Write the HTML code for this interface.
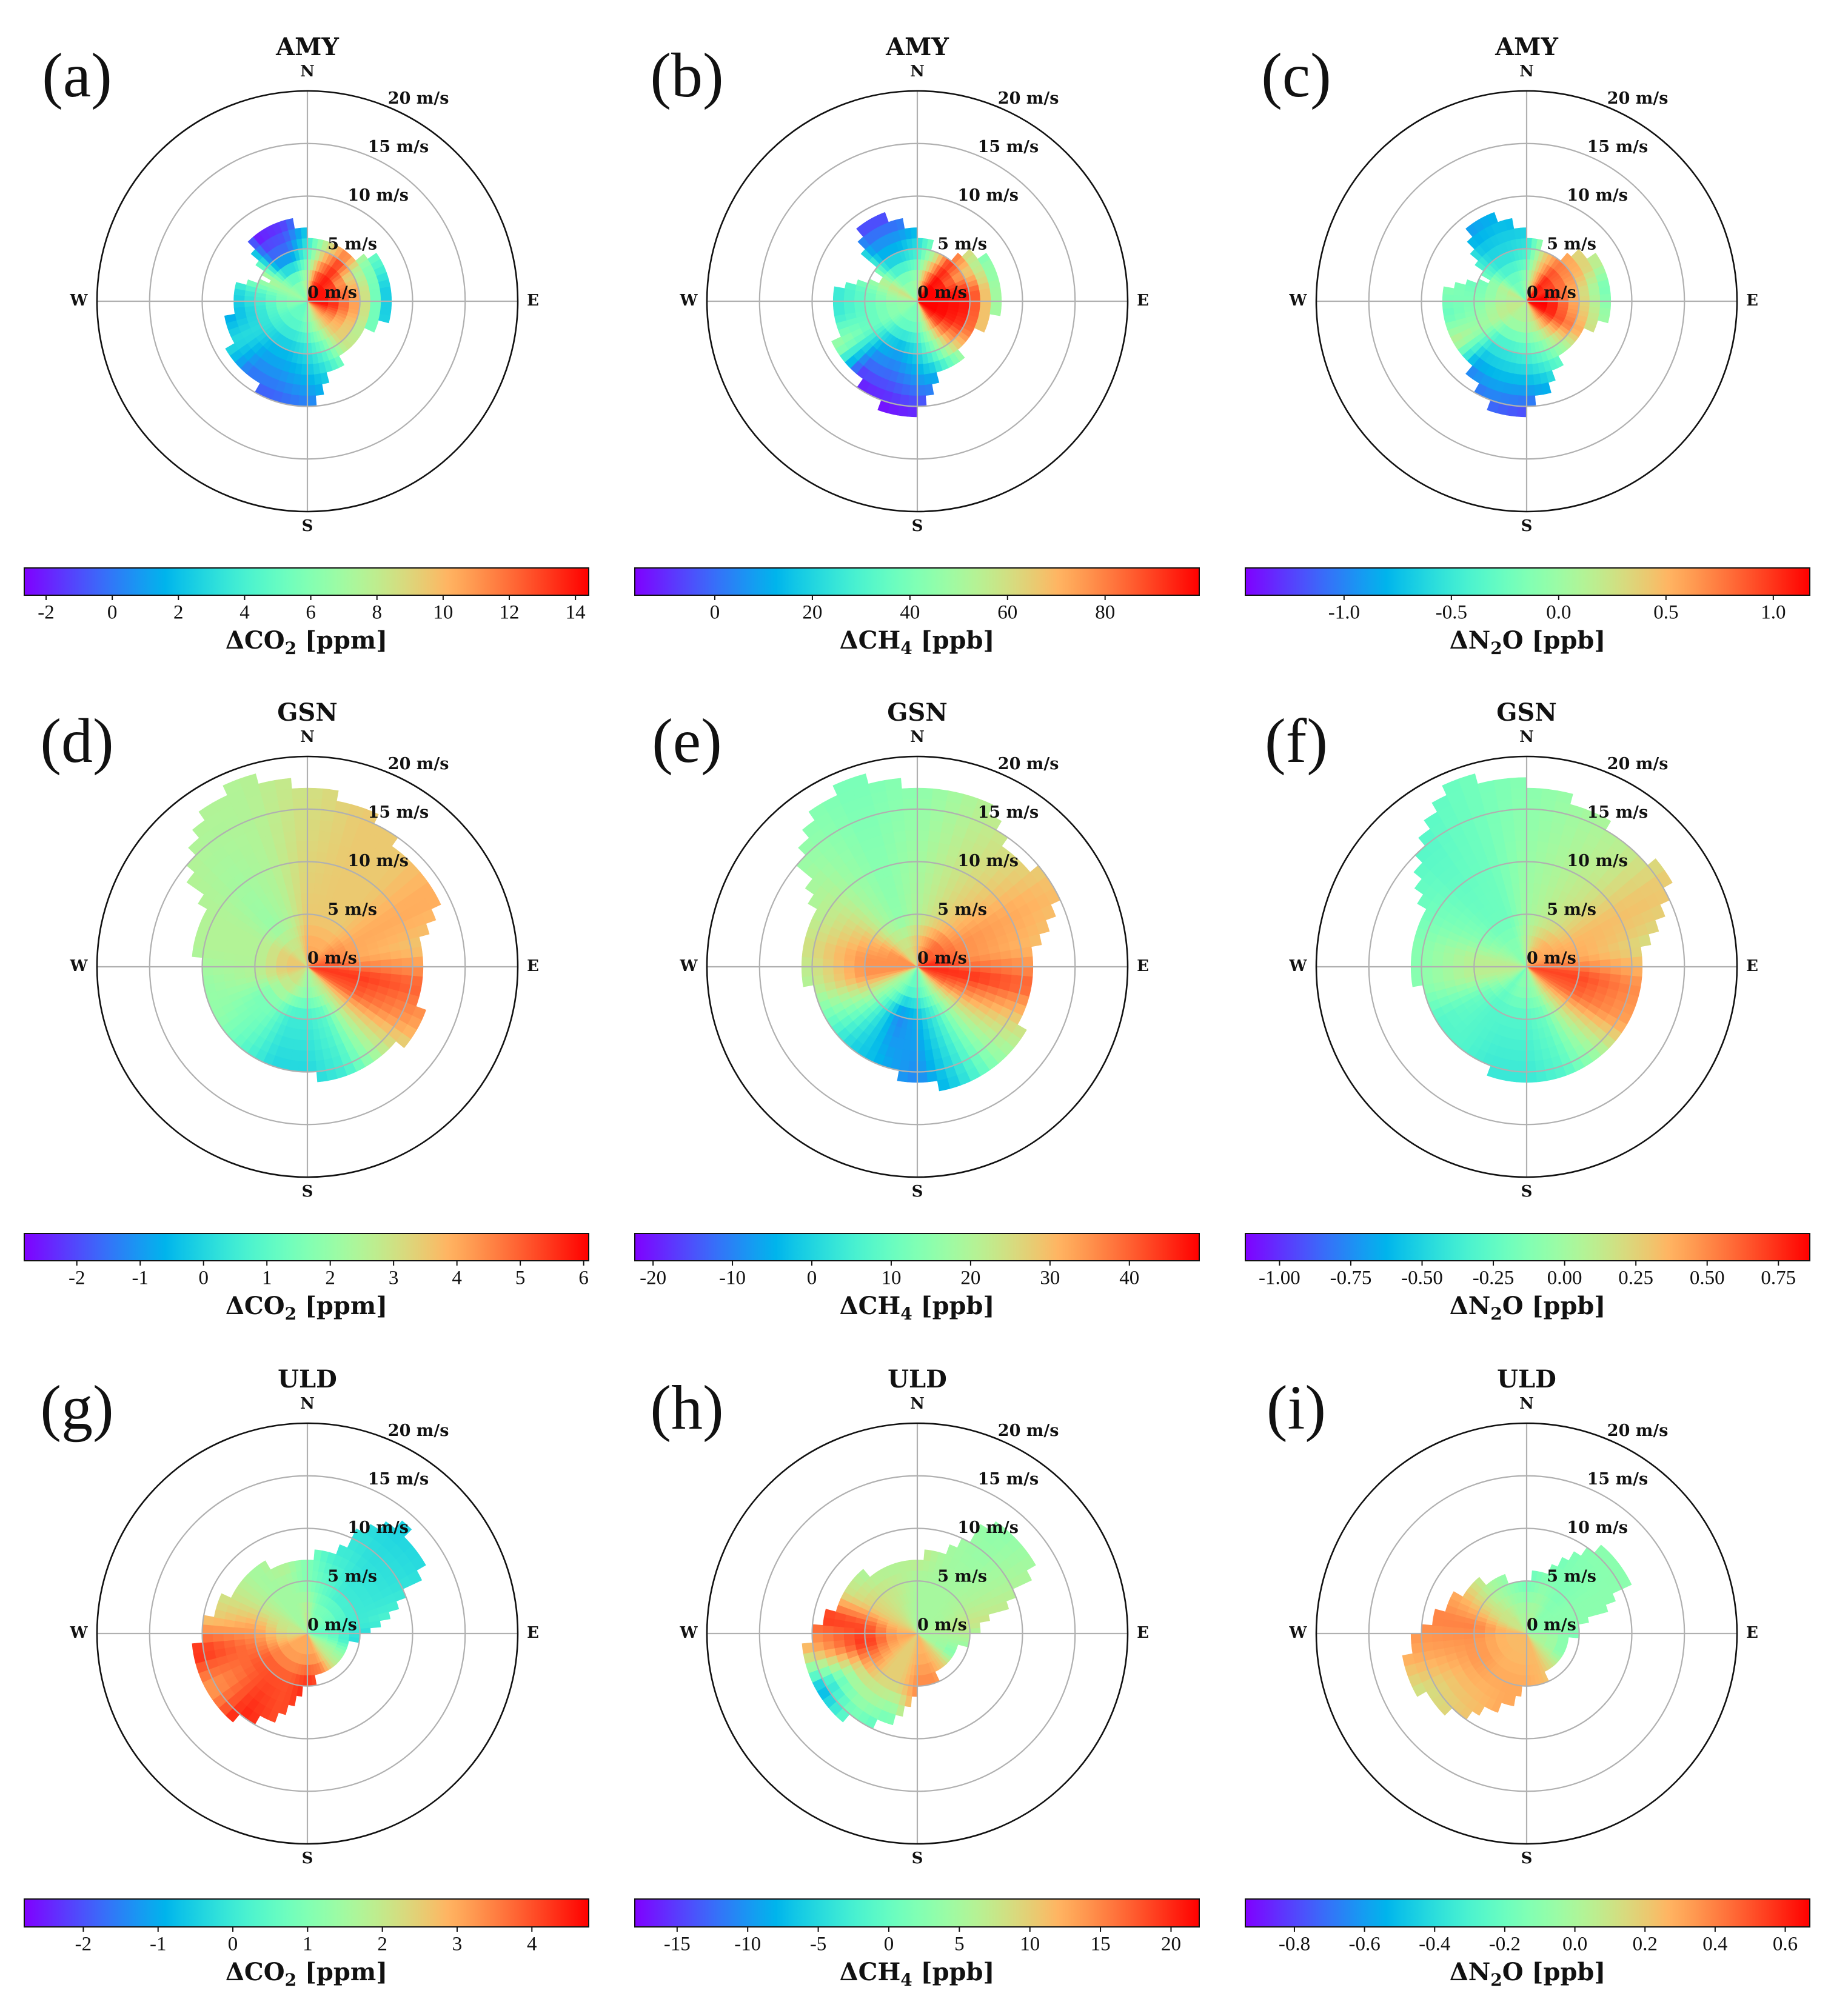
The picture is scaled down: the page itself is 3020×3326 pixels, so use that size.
<!DOCTYPE html>
<html><head><meta charset="utf-8"><style>
html,body{margin:0;padding:0;background:#fff}
svg{display:block}
.dj{font-family:"DejaVu Serif","Liberation Serif",serif;font-weight:bold}
.tm{font-family:"Liberation Serif","DejaVu Serif",serif}
</style></head><body>
<svg id="fig" xmlns="http://www.w3.org/2000/svg" width="3020" height="3326" viewBox="0 0 3020 3326"></svg>
<script>
// ---------- data: 18 sectors (0,20,...,340 deg clockwise from N) ----------
const sectorAngles = [0,20,40,60,80,100,120,140,160,180,200,220,240,260,280,300,320,340];
// (a) AMY CO2
const extA = [6.5,5.5,5.5,8,8,8,6,6,7,10,10.5,8.5,8.5,7.5,7,4,8,8.5];
const inA  = [8,13,14,14,14,14,12,10,8,6,5,5,5,6,6,7,6,6];
const midA = [4,9,13,8,10,10,9,9,5,3,2,2,3,3,4,8,0,0];
const outA = [1,5,5,4,1,1,2,5,3,0,-1,0,3,1,2,8,-2.5,-2];
// (b) AMY CH4
const extB = [6.5,5.2,5.5,8.5,7.7,7.7,6,6.5,6.5,10.5,10.7,9,9,7.5,7.5,3.5,8.5,8.5];
const inB  = [50,80,99,99,99,99,99,90,60,40,40,40,45,45,50,60,45,45];
const midB = [25,50,90,70,95,95,90,70,40,20,10,15,35,35,35,50,15,15];
const outB = [5,25,40,35,40,40,45,30,15,-10,-15,-10,50,25,25,40,-5,-5];
// (c) AMY N2O
const extC = [6.5,5.3,5.5,8.3,7.5,8,5.8,6,7.3,10.5,10.5,8.5,7.5,7.5,7.5,4,8.5,8.5];
const inC  = [0,0.5,1.1,1.0,1.17,1.17,1.1,0.7,0.3,0.1,0.1,0.1,0.2,0.2,0.1,0.2,-0.2,-0.2];
const midC = [-0.5,0.3,0.7,0.6,0.4,0.5,0.7,0.2,-0.2,-0.4,-0.5,-0.5,0,-0.1,-0.2,-0.3,-0.6,-0.6];
const outC = [-0.8,-0.3,0,0.1,-0.3,-0.1,-0.1,-0.6,-0.6,-1.2,-1.1,-1.0,0.2,-0.3,-0.1,-0.3,-0.9,-0.8];
// (d) GSN CO2
const extD = [17,16,14,14.5,11,10.8,12,11,11.4,10,10,10,10.5,10,10.7,11.4,17,19];
const inD  = [4,4,4,4.5,5,5.5,5,3,2.5,2,2.5,3,3,3.5,3.5,3.5,3,3];
const midD = [3.5,3.5,3.5,4,4,5.5,5,3,1,0.5,0.5,1.5,1.5,2.5,2.5,2.5,2,2.5];
const outD = [3,3.5,3.5,4,3.5,5,4,2.5,0.5,0,0,1,2,2,2.5,2.5,2.5,2.5];
// (e) GSN CH4
const extE = [17,17,14,15,11,11,11.5,12,12,11,10,9.5,10,10.5,10.5,11,17,19];
const inE  = [30,35,40,40,45,45,40,25,15,10,10,15,20,35,35,35,25,25];
const midE = [20,25,30,35,35,45,35,20,5,-5,-10,5,20,35,35,30,20,15];
const outE = [15,20,25,30,30,40,25,15,0,-10,-5,0,10,20,25,20,15,12];
// (f) GSN N2O
const extF = [17.5,16,15,16,11,10.5,11.5,11,11,10.5,10.5,10,10,10.5,10.5,11,16,19];
const inF  = [0.1,0.3,0.4,0.4,0.5,0.7,0.6,0.3,0.0,-0.1,-0.1,-0.2,0.0,0.1,0.1,0.0,-0.1,-0.1];
const midF = [0.0,0.1,0.2,0.35,0.4,0.7,0.6,0.2,-0.2,-0.3,-0.3,-0.3,-0.2,0.1,0.1,-0.1,-0.2,-0.2];
const outF = [-0.1,0.0,0.1,0.3,0.2,0.5,0.4,0.0,-0.3,-0.4,-0.4,-0.3,-0.3,-0.1,-0.1,-0.2,-0.3,-0.2];
// (g) ULD CO2
const extG = [7,8.5,14,12.5,7,4.5,4,3.5,4,5,8.5,10.5,11.5,11,9.5,8,8,7];
const inG  = [2,1,1,0.8,0.5,0.8,1.5,2,3,3,3,3,3,2.5,2,2,1.5,1.5];
const midG = [1,0.5,0,0,0,-0.5,1,2,4,4.5,4,4,4,3.5,3,2,1.5,1.5];
const outG = [1,0,-0.5,-0.3,0.3,-1,1,2,4,4.5,4,4.5,3,4.5,2.5,2,1.5,2];
// (h) ULD CH4
const extH = [7.3,8.5,13.5,12.5,6.5,4.8,3.5,3.5,5,5,9,10.5,11,11,9,7.5,7.5,7.3];
const inH  = [5,5,5,5,6,5,5,10,12,12,10,10,12,13,12,10,8,6];
const midH = [5,5,5,6,8,5,0,10,15,15,10,10,15,20,18,10,8,7];
const outH = [8,5,3,5,8,-10,-15,10,20,15,0,0,-10,10,20,8,5,5];
// (i) ULD N2O
const extI = [5.2,6.2,10.5,11.5,5.5,4,3.5,3.5,4.8,5,7.5,10,11.5,11.5,9,7.5,6.5,5.5];
const inI  = [0,0,-0.1,-0.1,-0.1,0,0,0.1,0.25,0.25,0.25,0.25,0.25,0.25,0.25,0.1,0.1,0];
const midI = [-0.2,-0.1,-0.15,-0.1,-0.1,-0.2,-0.2,0.1,0.25,0.3,0.3,0.3,0.35,0.35,0.4,0.2,0,-0.1];
const outI = [-0.3,-0.2,-0.1,-0.1,-0.1,-0.3,-0.2,0.1,0.25,0.3,0.3,0.2,0.1,0.3,0.4,0.3,0.1,0];
// colorbar ranges and ticks
const vminList = [-2.66,-16.4,-1.46,-2.83,-22.3,-1.12,-2.79,-18.0,-0.94];
const vmaxList = [14.4,99.3,1.17,6.08,48.8,0.86,4.76,22.0,0.67];
const ticksA = [-2,0,2,4,6,8,10,12,14];
const ticksB = [0,20,40,60,80];
const ticksC = ["-1.0","-0.5","0.0","0.5","1.0"];
const ticksD = [-2,-1,0,1,2,3,4,5,6];
const ticksE = [-20,-10,0,10,20,30,40];
const ticksF = ["-1.00","-0.75","-0.50","-0.25","0.00","0.25","0.50","0.75"];
const ticksG = [-2,-1,0,1,2,3,4];
const ticksH = [-15,-10,-5,0,5,10,15,20];
const ticksI = ["-0.8","-0.6","-0.4","-0.2","0.0","0.2","0.4","0.6"];
const siteTitles = ["AMY","AMY","AMY","GSN","GSN","GSN","ULD","ULD","ULD"];
const panelLetters = ["(a)","(b)","(c)","(d)","(e)","(f)","(g)","(h)","(i)"];
const gasNames = ["CO","CH","N","CO","CH","N","CO","CH","N"];
const gasSubs = ["2","4","2","2","4","2","2","4","2"];
const gasTails = ["","","O","","","O","","","O"];
const gasUnits = ["ppm","ppb","ppb","ppm","ppb","ppb","ppm","ppb","ppb"];
const speedRings = [5,10,15,20];

const NS="http://www.w3.org/2000/svg";
const svg=document.getElementById('fig');
function mk(tag,attrs,parent){const e=document.createElementNS(NS,tag);for(const k in attrs)e.setAttribute(k,attrs[k]);(parent||svg).appendChild(e);return e;}
function rainbow(x){x=Math.max(0,Math.min(1,x));let r=Math.min(1,Math.abs(2*x-0.5)),g=Math.sin(Math.PI*x),b=Math.cos(Math.PI*x/2);
 return `rgb(${Math.round(r*255)},${Math.round(g*255)},${Math.round(b*255)})`;}
const R=347, RMAX=20;
const colX=[507,1513,2518], rowY=[497,1595,2695];
const cbX=[[40,971],[1047,1978],[2054,2985]], cbY=[[937,982],[2035,2080],[3133,3179]];
const panels=[
 [extA,inA,midA,outA,ticksA],[extB,inB,midB,outB,ticksB],[extC,inC,midC,outC,ticksC],
 [extD,inD,midD,outD,ticksD],[extE,inE,midE,outE,ticksE],[extF,inF,midF,outF,ticksF],
 [extG,inG,midG,outG,ticksG],[extH,inH,midH,outH,ticksH],[extI,inI,midI,outI,ticksI]];
function rs(v){return v/RMAX*R;}
function lerp(a,b,t){return a+(b-a)*t;}
function sect(arr,th){const s=th/20;const i0=Math.floor(s)%18;const i1=(i0+1)%18;return lerp(arr[i0],arr[i1],s-Math.floor(s));}
function pt(cx,cy,r,deg){const a=deg*Math.PI/180;return [cx+r*Math.sin(a),cy-r*Math.cos(a)];}

const defs=mk('defs',{});
const lg=mk('linearGradient',{id:'rb',x1:'0',x2:'1',y1:'0',y2:'0'},defs);
for(let i=0;i<=40;i++){mk('stop',{offset:(i/40).toFixed(3),'stop-color':rainbow(i/40)},lg);}

panels.forEach((P,pi)=>{
 const [ext,vin,vmid,vout,ticks]=P;
 const col=pi%3,row=Math.floor(pi/3);
 const cx=colX[col],cy=rowY[row];
 const vmin=vminList[pi],vmax=vmaxList[pi];
 const g=mk('g',{});
 
 
 const cells=mk('g',{},g);
 
 
 for(let k=0;k<72;k++){
  const th0=k*5,th1=th0+5,thc=th0+2.5;
  const e=sect(ext,thc),a=sect(vin,thc),m=sect(vmid,thc),o=sect(vout,thc);
  for(let j=0;j<20;j++){
   const rc=j+0.5; if(rc>e) break;
   let v; if(rc<=2) v=a; else if(rc<=5) v=lerp(a,m,(rc-2)/3); else {const top=Math.max(e,8);v=lerp(m,o,Math.min(1,(rc-5)/(top-5)));}
   const c=rainbow((v-vmin)/(vmax-vmin));
   const r0=rs(j),r1=rs(j+1);
   const p1=pt(cx,cy,r1,th0),p2=pt(cx,cy,r1,th1),p3=pt(cx,cy,r0,th1),p4=pt(cx,cy,r0,th0);
   const d=`M${p1[0].toFixed(1)},${p1[1].toFixed(1)}A${r1.toFixed(1)},${r1.toFixed(1)} 0 0 1 ${p2[0].toFixed(1)},${p2[1].toFixed(1)}L${p3[0].toFixed(1)},${p3[1].toFixed(1)}A${r0.toFixed(1)},${r0.toFixed(1)} 0 0 0 ${p4[0].toFixed(1)},${p4[1].toFixed(1)}Z`;
   const cell=mk('path',{d:d,fill:c,stroke:c,'stroke-width':'0.6'},cells);
   
   
  }
 }
 const grid=mk('g',{},g);
 
 
 mk('line',{x1:cx-R,y1:cy,x2:cx+R,y2:cy,stroke:'#b0b0b0','stroke-width':2.2},grid);
 mk('line',{x1:cx,y1:cy-R,x2:cx,y2:cy+R,stroke:'#b0b0b0','stroke-width':2.2},grid);
 speedRings.forEach(s=>{
  const ring=mk('circle',{cx:cx,cy:cy,r:rs(s),fill:'none',stroke:s===20?'#111':'#b0b0b0','stroke-width':s===20?2.6:2.2},grid);
  
  
 });
 [0].concat(speedRings).forEach(s=>{
  const p=pt(cx,cy,rs(s),22.5);
  const t=mk('text',{x:p[0].toFixed(1),y:(p[1]-13).toFixed(1),'font-size':27,'dominant-baseline':'middle',class:'dj',fill:'#111'},g);
  t.textContent=s+' m/s';
  
  
 });
 const dirs=[['N',cx,cy-378],['S',cx,cy+372],['W',cx-377,cy],['E',cx+372,cy]];
 dirs.forEach(dd=>{const t=mk('text',{x:dd[1],y:dd[2],'font-size':26,'text-anchor':'middle','dominant-baseline':'middle',class:'dj',fill:'#111'},g);
  t.textContent=dd[0];
  
  });
 const tt=mk('text',{x:cx,y:cy-416,'font-size':40,'text-anchor':'middle','dominant-baseline':'middle',class:'dj',fill:'#111'},g);
 tt.textContent=siteTitles[pi];
 
 
 const lt=mk('text',{x:cx-380,y:cy-362,'font-size':104,'text-anchor':'middle','dominant-baseline':'middle',class:'tm',fill:'#111'},g);
 lt.textContent=panelLetters[pi];
 
 
 const [bx0,bx1]=cbX[col],[by0,by1]=cbY[row];
 const cb=mk('g',{},g);
 
 
 mk('rect',{x:bx0,y:by0,width:bx1-bx0,height:by1-by0,fill:'url(#rb)',stroke:'#111','stroke-width':2},cb);
 ticks.forEach(tv=>{
  const v=parseFloat(tv);
  const x=bx0+(v-vmin)/(vmax-vmin)*(bx1-bx0);
  mk('line',{x1:x,y1:by1,x2:x,y2:by1+8,stroke:'#111','stroke-width':2},cb);
  const t=mk('text',{x:x,y:by1+31,'font-size':33,'text-anchor':'middle','dominant-baseline':'middle',class:'tm',fill:'#111'},cb);
  t.textContent=String(tv);
  
  
 });
 const lab=mk('text',{x:(bx0+bx1)/2,y:by1+88,'font-size':40,'text-anchor':'middle',class:'dj',fill:'#111'},cb);
 
 
 const s1=mk('tspan',{},lab); s1.textContent='Δ'+gasNames[pi];
 const s2=mk('tspan',{'font-size':28,dy:9},lab); s2.textContent=gasSubs[pi];
 const s3=mk('tspan',{dy:-9},lab); s3.textContent=gasTails[pi]+' ['+gasUnits[pi]+']';
});
</script>
</body></html>
